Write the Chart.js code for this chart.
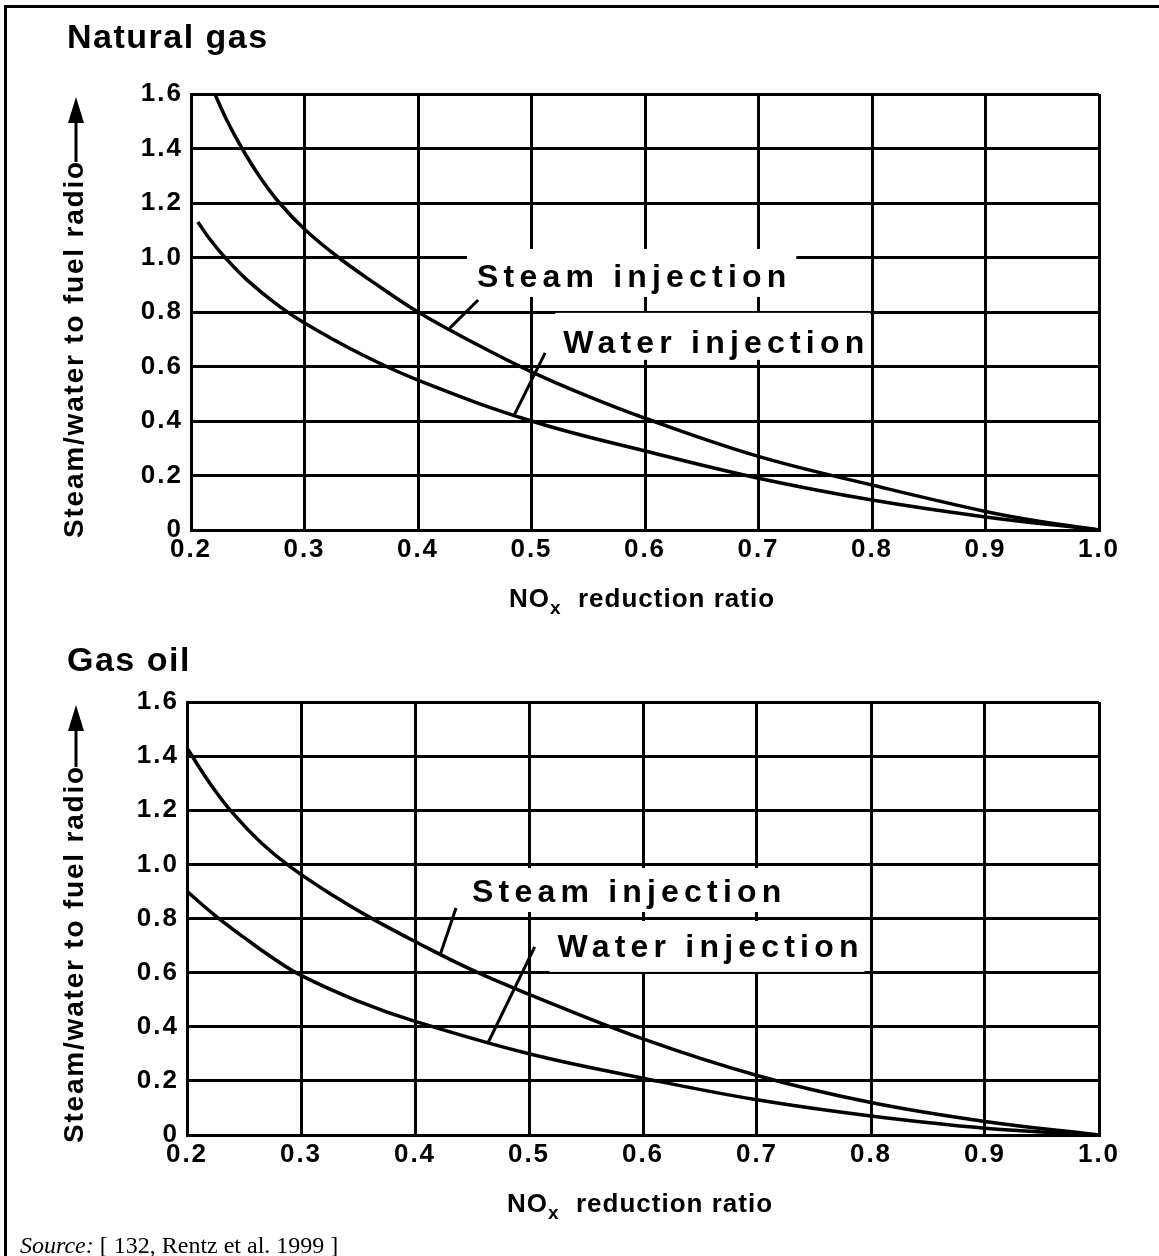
<!DOCTYPE html>
<html>
<head>
<meta charset="utf-8">
<title>Steam / water injection vs NOx reduction</title>
<script src="https://cdn.jsdelivr.net/npm/chart.js@4.4.0/dist/chart.umd.min.js"></script>
<style>
  html, body { margin: 0; background: #fff; overflow: hidden; width: 1159px; height: 1256px; }
  #frame { position: absolute; left: 4px; top: 5px; width: 1200px; height: 1300px;
           border-top: 3px solid #000; border-left: 3px solid #000; }
  canvas { position: absolute; left: 0; }
</style>
</head>
<body>
<div id="frame"></div>
<canvas id="gasChart" width="1159" height="640" style="top:0"></canvas>
<canvas id="oilChart" width="1159" height="636" style="top:620px"></canvas>

<script>
// ---- data ----
// Natural gas
var gasSteamX = [0.221, 0.232, 0.245, 0.26, 0.278, 0.301, 0.33, 0.362, 0.4, 0.45, 0.5, 0.55, 0.6, 0.7, 0.8, 0.9, 0.95, 1.0];
var gasSteamY = [1.6, 1.5, 1.4, 1.3, 1.2, 1.1, 1.0, 0.905, 0.8, 0.685, 0.58, 0.49, 0.41, 0.27, 0.165, 0.068, 0.03, 0];
var gasWaterX = [0.206, 0.217, 0.23, 0.25, 0.275, 0.3, 0.35, 0.4, 0.5, 0.6, 0.7, 0.8, 0.9, 1.0];
var gasWaterY = [1.13, 1.065, 1.0, 0.915, 0.83, 0.76, 0.645, 0.55, 0.40, 0.29, 0.19, 0.11, 0.048, 0];
// Gas oil
var oilSteamX = [0.2, 0.22, 0.24, 0.265, 0.291, 0.33, 0.36, 0.4, 0.45, 0.5, 0.6, 0.7, 0.8, 0.9, 1.0];
var oilSteamY = [1.43, 1.3, 1.19, 1.08, 0.99, 0.88, 0.805, 0.715, 0.61, 0.52, 0.355, 0.22, 0.12, 0.05, 0];
var oilWaterX = [0.2, 0.225, 0.25, 0.275, 0.3, 0.35, 0.4, 0.5, 0.6, 0.7, 0.8, 0.9, 1.0];
var oilWaterY = [0.9, 0.81, 0.73, 0.655, 0.59, 0.495, 0.42, 0.30, 0.21, 0.13, 0.07, 0.025, 0];

var xTicks = [0.2, 0.3, 0.4, 0.5, 0.6, 0.7, 0.8, 0.9, 1.0];
var yTicks = [0, 0.2, 0.4, 0.6, 0.8, 1.0, 1.2, 1.4, 1.6];

var FONT = '"Liberation Sans", Arial, Helvetica, sans-serif';

function toPoints(xs, ys) {
    return xs.map(function (x, i) { return { x: x, y: ys[i] } })
}

// labels inside the plot ("Steam injection" etc.), anchored in data units
var gasCallouts = [
    { text: 'Steam injection', x: 0.452, y: 0.892, pad: [10, 15, 10, 10], leader: [0.428, 0.741, 0.453, 0.844] },
    { text: 'Water injection', x: 0.528, y: 0.65, pad: [8, 17, 6, 7], leader: [0.484, 0.415, 0.512, 0.65] }
];
var oilCallouts = [
    { text: 'Steam injection', x: 0.45, y: 0.861, pad: [10, 11, 10, 10], leader: [0.422, 0.665, 0.436, 0.839] },
    { text: 'Water injection', x: 0.525, y: 0.658, pad: [8, 13, 6, 15], leader: [0.464, 0.34, 0.505, 0.695] }
];

// ---- custom drawing ----
var decorPlugin = {
    id: 'decor',
    beforeLayout: function (chart) { chart.ctx.letterSpacing = '2px' },
    beforeDraw: function (chart) { chart.ctx.letterSpacing = '2px' },
    afterDatasetsDraw: function (chart, args, opts) {
        var ctx = chart.ctx, sx = chart.scales.x, sy = chart.scales.y;
        (opts.callouts || []).forEach(function (c) {
            ctx.save();
            ctx.font = 'bold 32px ' + FONT;
            ctx.letterSpacing = '5.2px';
            var w = ctx.measureText(c.text).width - 5.2;
            var x = sx.getPixelForValue(c.x), y = sy.getPixelForValue(c.y);
            var capTop = y - 23;
            ctx.fillStyle = '#fff';
            ctx.fillRect(x - c.pad[0], capTop - c.pad[1], w + c.pad[0] + c.pad[2], (y - capTop) + c.pad[1] + c.pad[3]);
            ctx.fillStyle = '#000';
            ctx.textAlign = 'left';
            ctx.textBaseline = 'alphabetic';
            ctx.fillText(c.text, x, y);
            ctx.lineWidth = 3;
            ctx.strokeStyle = '#000';
            ctx.beginPath();
            ctx.moveTo(sx.getPixelForValue(c.leader[0]), sy.getPixelForValue(c.leader[1]));
            ctx.lineTo(sx.getPixelForValue(c.leader[2]), sy.getPixelForValue(c.leader[3]));
            ctx.stroke();
            ctx.restore();
        })
    },
    afterDraw: function (chart, args, opts) {
        var ctx = chart.ctx, a = chart.chartArea;

        // panel title
        ctx.save();
        ctx.fillStyle = '#000';
        ctx.font = 'bold 34px ' + FONT;
        ctx.letterSpacing = '1.5px';
        ctx.textAlign = 'left';
        ctx.textBaseline = 'alphabetic';
        ctx.fillText(opts.title, 67, opts.titleY);
        ctx.restore();

        // y axis title with arrow
        ctx.save();
        ctx.fillStyle = '#000';
        ctx.font = 'bold 28px ' + FONT;
        ctx.letterSpacing = '1.8px';
        var txt = 'Steam/water to fuel radio';
        var tw = ctx.measureText(txt).width;
        var start = a.bottom + 8;
        ctx.translate(83, start);
        ctx.rotate(-Math.PI / 2);
        ctx.textAlign = 'left';
        ctx.textBaseline = 'alphabetic';
        ctx.fillText(txt, 0, 0);
        ctx.restore();

        var ax = 76;
        ctx.save();
        ctx.strokeStyle = '#000';
        ctx.fillStyle = '#000';
        ctx.lineWidth = 3;
        ctx.beginPath();
        ctx.moveTo(ax, start - tw + 2);
        ctx.lineTo(ax, a.top + 24);
        ctx.stroke();
        ctx.beginPath();
        ctx.moveTo(ax, a.top + 3);
        ctx.lineTo(ax - 8, a.top + 29);
        ctx.lineTo(ax + 8, a.top + 29);
        ctx.closePath();
        ctx.fill();
        ctx.restore();

        // x axis title: NOx reduction ratio
        ctx.save();
        ctx.fillStyle = '#000';
        ctx.letterSpacing = '1px';
        ctx.textAlign = 'left';
        ctx.textBaseline = 'alphabetic';
        var big = 'bold 26px ' + FONT, small = 'bold 19px ' + FONT;
        ctx.font = big;
        var wNO = ctx.measureText('NO').width;
        var wRest = ctx.measureText('  reduction ratio').width;
        ctx.font = small;
        var wx = ctx.measureText('x').width;
        var xx = (a.left + a.right) / 2 - 3 - (wNO + wx + wRest) / 2;
        var by = a.bottom + 77;
        ctx.font = big;
        ctx.fillText('NO', xx, by);
        xx += wNO;
        ctx.font = small;
        ctx.fillText('x', xx, by + 7);
        xx += wx;
        ctx.font = big;
        ctx.fillText('  reduction ratio', xx, by);
        ctx.restore();

        // source line
        if (opts.source) {
            ctx.save();
            ctx.fillStyle = '#000';
            ctx.letterSpacing = '0px';
            ctx.textAlign = 'left';
            ctx.textBaseline = 'alphabetic';
            ctx.font = 'italic 24px "Liberation Serif", "Times New Roman", serif';
            ctx.fillText('Source:', 20, opts.sourceY);
            var ws = ctx.measureText('Source:').width;
            ctx.font = '24px "Liberation Serif", "Times New Roman", serif';
            ctx.fillText(' [ 132, Rentz et al. 1999 ]', 20 + ws, opts.sourceY);
            ctx.restore();
        }
    }
};

function makeChart(canvasId, steam, water, geo, decor) {
    var lineStyle = {
        borderColor: '#000',
        borderWidth: 3.5,
        pointRadius: 0,
        fill: false,
        tension: 0.4
    };
    return new Chart(document.getElementById(canvasId), {
        type: 'line',
        data: {
            datasets: [
                Object.assign({ label: 'Steam injection', data: steam }, lineStyle),
                Object.assign({ label: 'Water injection', data: water }, lineStyle)
            ]
        },
        options: {
            responsive: false,
            animation: false,
            layout: { padding: { top: geo.top, right: geo.right, left: 0, bottom: 0 } },
            plugins: {
                legend: { display: false },
                tooltip: { enabled: false },
                decor: decor
            },
            scales: {
                x: {
                    type: 'linear',
                    min: xTicks[0],
                    max: xTicks[xTicks.length - 1],
                    afterBuildTicks: function (s) { s.ticks = xTicks.map(function (v) { return { value: v } }) },
                    afterFit: function (s) { s.height = geo.xHeight },
                    grid: { color: '#000', lineWidth: 3, drawTicks: false },
                    border: { display: true, color: '#000', width: 3 },
                    ticks: {
                        color: '#000',
                        padding: 4,
                        maxRotation: 0,
                        font: { family: FONT, size: 26, weight: 'bold' },
                        callback: function (v) { return Number(v).toFixed(1) }
                    }
                },
                y: {
                    type: 'linear',
                    min: yTicks[0],
                    max: yTicks[yTicks.length - 1],
                    afterBuildTicks: function (s) { s.ticks = yTicks.map(function (v) { return { value: v } }) },
                    afterFit: function (s) { s.width = geo.left },
                    grid: { color: '#000', lineWidth: 3, drawTicks: false },
                    border: { display: true, color: '#000', width: 3 },
                    ticks: {
                        color: '#000',
                        padding: 8,
                        font: { family: FONT, size: 26, weight: 'bold' },
                        callback: function (v) { return v === 0 ? '0' : Number(v).toFixed(1) }
                    }
                }
            }
        },
        plugins: [decorPlugin]
    });
}

// top panel: plot area 191..1099 x 94..530
var gasChart = makeChart('gasChart',
    toPoints(gasSteamX, gasSteamY), toPoints(gasWaterX, gasWaterY),
    { top: 94, right: 60, left: 191, xHeight: 110 },
    { title: 'Natural gas', titleY: 48, callouts: gasCallouts });

// bottom panel (canvas starts at y=620): plot area 187..1099 x 702..1135
var oilChart = makeChart('oilChart',
    toPoints(oilSteamX, oilSteamY), toPoints(oilWaterX, oilWaterY),
    { top: 82, right: 60, left: 187, xHeight: 121 },
    { title: 'Gas oil', titleY: 51, callouts: oilCallouts, source: true, sourceY: 633 });
</script>
</body>
</html>
